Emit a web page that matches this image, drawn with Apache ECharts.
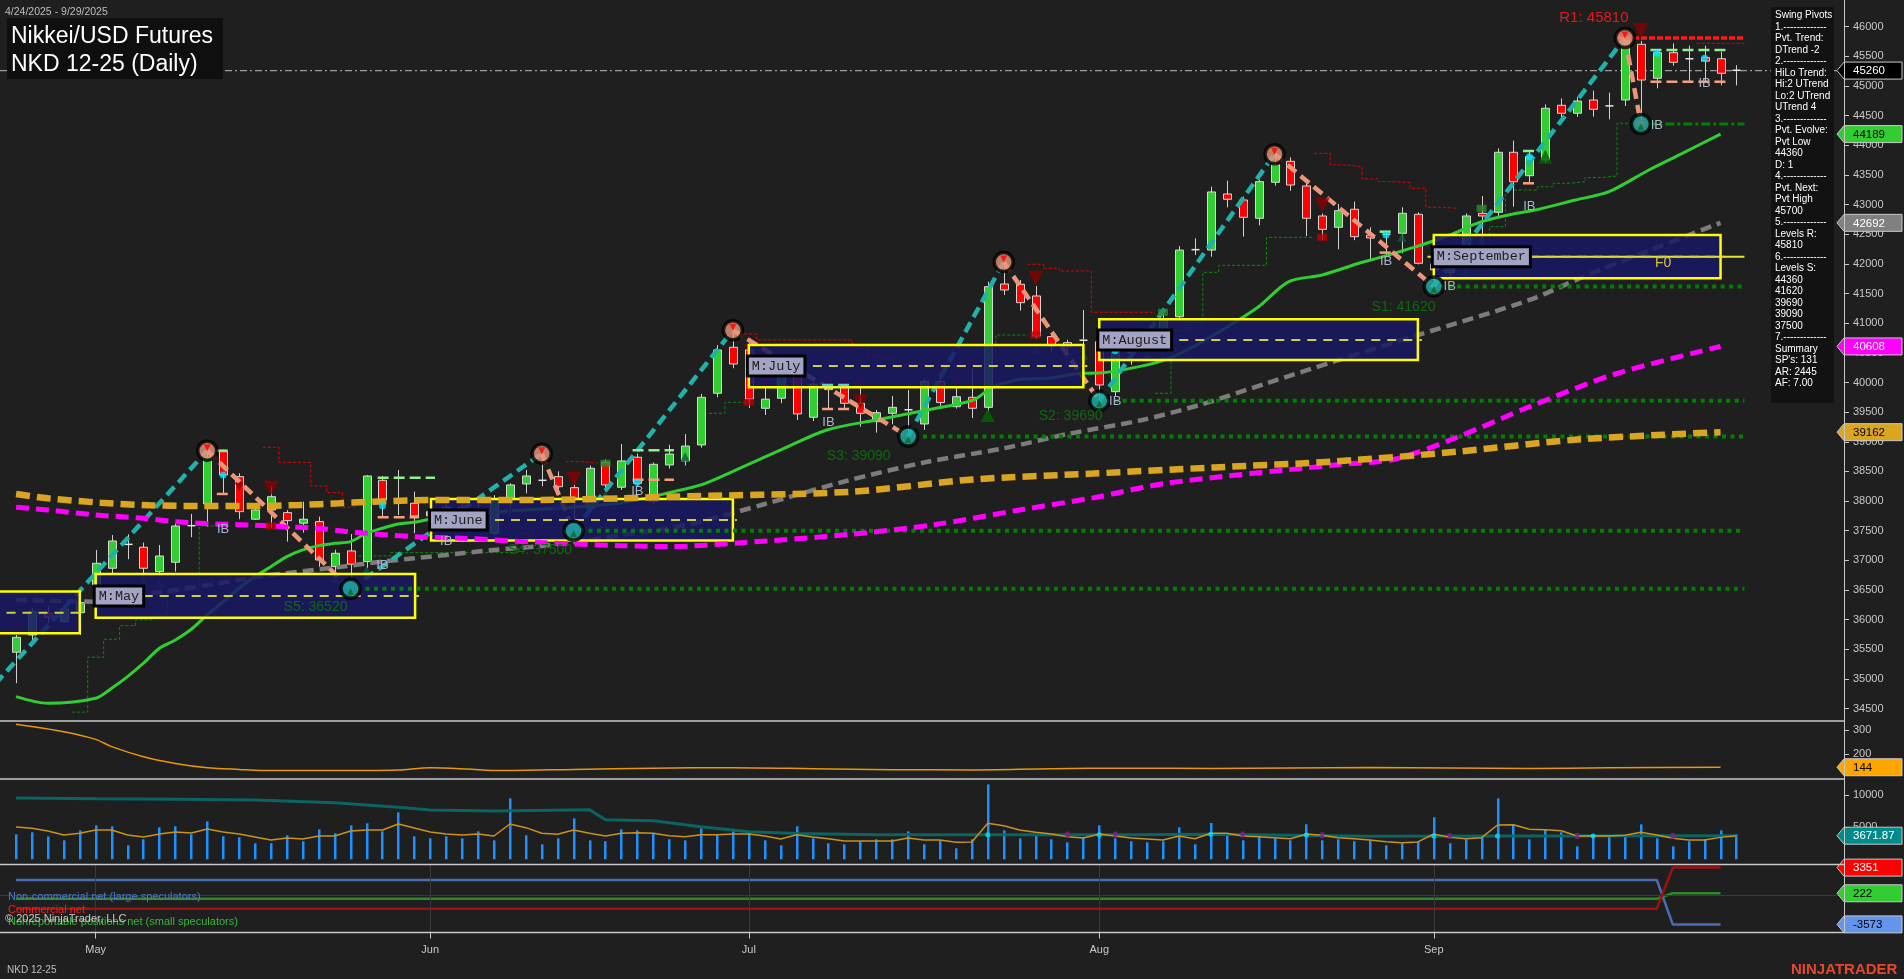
<!DOCTYPE html>
<html><head><meta charset="utf-8">
<script src="https://cdn.jsdelivr.net/npm/echarts@6/dist/echarts.min.js"></script>
<style>html,body{margin:0;padding:0;background:#1f1f1f;overflow:hidden}#c{width:1904px;height:979px}</style>
</head><body><div id="c"></div>
<script>
// ---------- DATA ----------
const dates = ['04-24','04-25','04-28','04-29','04-30',
'05-01','05-02','05-05','05-06','05-07','05-08','05-09','05-12','05-13','05-14','05-15','05-16','05-19','05-20','05-21','05-22','05-23','05-27','05-28','05-29','05-30',
'06-02','06-03','06-04','06-05','06-06','06-09','06-10','06-11','06-12','06-13','06-16','06-17','06-18','06-20','06-23','06-24','06-25','06-26','06-27','06-30',
'07-01','07-02','07-03','07-07','07-08','07-09','07-10','07-11','07-14','07-15','07-16','07-17','07-18','07-21','07-22','07-23','07-24','07-25','07-28','07-29','07-30','07-31',
'08-01','08-04','08-05','08-06','08-07','08-08','08-11','08-12','08-13','08-14','08-15','08-18','08-19','08-20','08-21','08-22','08-25','08-26','08-27','08-28','08-29',
'09-02','09-03','09-04','09-05','09-08','09-09','09-10','09-11','09-12','09-15','09-16','09-17','09-18','09-19','09-22','09-23','09-24','09-25','09-26','09-29'];
const monthNames = {'05':'May','06':'Jun','07':'Jul','08':'Aug','09':'Sep'};

const open  = [35451,35742,36108,35967,36118,36586,36867,37260,37221,36810,36968,37575,37951,38833,38412,37694,37850,37805,37626,37653,36895,37159,36979,38350,37985,37963,37750,37800,37900,37850,
37457,38019,38288,38330,38412,38226,37879,38649,38233,38739,37990,38609,38677,38946,39818,40593,40550,39565,39734,40183,39413,39880,39929,39649,39339,39480,39530,39300,40015,39592,39750,
39581,41661,41656,41459,40773,40672,40700,40688,39845,40500,40600,40716,41108,42225,42233,43179,43078,42769,43376,43730,43314,42808,42617,42921,42482,42480,42516,42836,42000,41850,
42319,42853,42870,43882,43487,43752,44675,44540,44764,44660,44764,45703,45130,45562,45450,45480,45460,45265];
const high  = [35742,36193,36231,36265,36405,37176,37427,37440,37300,37260,37626,37783,38850,38870,38469,37870,38250,37850,37990,37737,37180,37445,38440,38420,38525,38159,37950,38050,38000,37950,
38100,38300,38525,38800,38500,38280,38600,38700,38963,38800,38650,38950,39130,39806,40632,40880,40680,39929,40300,40211,40000,39980,39980,39987,39536,39773,39874,40060,40100,39900,40240,
41700,42030,41729,41627,40800,40720,41222,40900,40620,40700,40900,41250,42300,42432,43302,43403,43134,43420,43850,43797,43387,42850,43010,43050,42617,42560,42955,42870,42150,42250,
42850,43145,43950,44078,43909,44690,44792,44810,44921,44887,45810,45760,45600,45720,45680,45680,45578,45350];
const low   = [34928,35573,35940,35950,35742,36550,36783,37019,36726,36740,36810,37390,37568,38120,37694,37680,37542,37316,37468,36894,36700,36520,36867,37737,37765,37457,37600,37700,37550,37500,
37420,37850,38132,38250,38100,37500,37800,38150,38187,38250,37950,38550,38600,38900,39750,40240,39570,39452,39650,39368,39350,39560,39550,39255,39154,39295,39090,39200,39600,39560,39400,
39500,41476,41211,40745,40520,40500,40380,39690,39760,40300,40500,40650,41050,42150,42121,42954,42459,42650,43320,43234,42470,42400,42246,42400,42066,42180,42178,41990,41620,41780,
42150,42319,42800,42965,43347,43700,44427,44480,44482,44438,44663,44360,44960,45342,45073,45050,45012,45010];
const close = [35703,36135,36040,36181,36287,36951,37327,37270,36867,37074,37580,37585,38739,38440,37822,37850,38074,37670,37694,37007,37120,36935,38423,38019,37995,37749,37820,37900,37850,37700,
38019,38272,38423,38350,38243,38047,38553,38272,38677,38300,38620,38794,38928,39750,40548,40312,39720,39718,40211,39470,39970,39930,39649,39480,39490,39581,39540,40015,39661,39760,39565,
41616,41560,41346,40784,40616,40604,40712,39958,40548,40600,40700,41053,42233,42240,43213,43090,42786,43387,43681,43330,42769,42583,42897,42459,42437,42500,42853,42010,41900,42100,
42808,42808,43882,43386,43809,44624,44540,44747,44607,44665,45780,45101,45562,45400,45460,45420,45214,45260];

const volume = [3885,4200,3570,2950,4500,5280,5130,2175,3110,4970,5130,3885,5900,3570,3420,2490,2490,3730,2800,4660,4040,5280,5600,4350,7300,3570,3260,3570,3260,4350,
2950,9480,3730,2330,3260,6370,2950,2800,4660,4500,3990,3110,2950,4820,3885,4350,4200,2950,2175,5130,3260,2490,2330,2800,3110,3110,4350,2330,2950,1710,3110,11650,4500,3260,3885,3110,2640,3420,5280,3260,2800,2640,2800,4970,
2330,5650,3885,2950,3570,3260,2950,5440,2950,3110,2800,2950,2175,2490,2800,6530,2490,3110,3570,9480,5440,3110,4660,4200,2020,3885,3570,3570,5440,3260,2020,2800,3110,4500,3885];
const volFast = [5020,4820,4400,3780,4040,4560,4560,3780,3470,3940,4250,4090,4710,4250,3940,3470,3000,3310,3160,3620,3620,4400,4560,4560,5490,4870,4250,3940,3780,3940,3620,
5490,4920,4040,3890,4560,4040,3620,4040,4140,4040,3670,3510,3830,3830,3930,3930,3620,3160,3830,3470,3200,2850,2850,2850,2850,3310,3000,3000,2640,2700,5600,5230,4560,4200,3930,3510,3310,3930,3620,3310,3160,3000,3620,
3200,4040,4040,3620,3510,3360,3200,3930,3730,3360,3200,3000,2740,2580,2700,3930,3410,3200,3360,5330,5380,4660,4610,4450,3620,3670,3620,3730,4200,3780,3260,3000,3000,3410,3670];
const volSlow = [[0,9530],[5,9420],[10,9330],[15,9220],[20,8800],[24,8090],[26,7670],[30,7510],[36,7710],[37,6160],[40,6010],[43,5070],[46,4290],[49,4030],[54,3830],[61,3830],[70,3830],[75,3890],[85,3600],[95,3620],[108,3672]];
const volCyanDots = [[61,3830],[68,3830],[75,3890],[81,3760],[89,3620],[93,3610],[99,3620]];
const volPurpleDots = [[66,3830],[69,3830],[77,3860],[82,3740],[90,3615],[98,3620],[104,3640]];

const osc = [[0,323],[3,292],[5,260],[6,230],[8,188],[10,160],[12,142],[14,135],[16,130],[22,130],[24,132],[26,142],[28.3,137],[30.4,130],[35,135],[40,140],[45,142],[50,138],[55,134],[60,133],[65,138],[70,140],[75,139],[80,141],[85,143],[90,141],[95,139],[100,142],[107,144]];

const cotLarge = [[0,1840],[103,1840],[104,-3573],[107,-3573]];
const cotComm  = [[0,-1660],[103,-1660],[104,3351],[107,3351]];
const cotSmall = [[0,-440],[103,-440],[104,222],[107,222]];

const smaGreen = [[0,34702],[2,34590],[5,34675],[6,34843],[7,35039],[8,35265],[9,35518],[10,35658],[11,35838],[12,36080],[13,36304],[14,36530],[15,36726],[16,36894],[17,37063],[18,37176],[19,37248],[20,37288],[21,37316],[22,37457],[23,37542],[24,37614],[25,37642],[26,37693],[28,37765],[31,37833],[34,37879],[36,37917],[38,37973],[40,38074],[41,38142],[43,38272],[45,38500],[48,38862],[50.9,39199],[54,39368],[57.2,39536],[60.1,39705],[61.3,39929],[62.4,40014],[63,40054],[64.8,40071],[66.9,40155],[68,40160],[70.5,40267],[72.4,40408],[74.3,40661],[76.4,40998],[78,41278],[79.9,41700],[82,41813],[84.3,42010],[85.8,42122],[87.9,42290],[90,42487],[92,42712],[94.2,42853],[95.4,42909],[97.9,43078],[100,43218],[102.5,43584],[104.6,43865],[107,44189]];
const maGray = [[0,36333],[5,36304],[7.6,36417],[10,36501],[14,36670],[16,36754],[20,36878],[23,36979],[25,37035],[28,37120],[30,37176],[33,37243],[36,37344],[38,37429],[41,37542],[43,37653],[47,37950],[52,38330],[57,38650],[62,38890],[66,39130],[70.7,39368],[74.3,39621],[78.5,39987],[82.7,40350],[88,40800],[95,41391],[98.4,41784],[102.6,42234],[107,42692]];
const maMagenta = [[0,37896],[2,37850],[5,37766],[8,37710],[10,37653],[12.5,37614],[14.7,37597],[16.8,37568],[18.9,37542],[20.8,37485],[22,37457],[25,37400],[28,37373],[33,37300],[38,37248],[41,37232],[45.5,37297],[52.4,37440],[57.7,37604],[63,37850],[67.6,38054],[72.2,38300],[82.8,38609],[86.6,38710],[90.5,39080],[95,39590],[100.4,40143],[107,40608]];
const maGold = [[0,38120],[2,38047],[5.3,37973],[8.4,37929],[11.5,37917],[14.7,37917],[17.8,37934],[20.3,37963],[22,37985],[25,38013],[28,38019],[33,38019],[38,38047],[41,38074],[52.4,38157],[60,38363],[67.6,38464],[75.2,38567],[82.9,38670],[90.5,38833],[98,39037],[107,39162]];

const pivotIdx = [-1.3,12,21,33,35,45,56,62,68,79,89,101,102];
const pivotVal = [34920,38850,36520,38800,37500,40880,39090,42030,39690,43850,41620,45810,44360];

const levelVal  = [36520,37500,39090,39690,41620,45810,44360];
const levelFrom = [21.4,35.4,56.4,68.4,89.4,100.5,102.4];
const levelTo   = [108.5,108.5,108.5,108.5,108.5,108.5,108.5];
const levelText = ['S5: 36520','S4: 37500','S3: 39090','S2: 39690','S1: 41620','R1: 45810',''];
const levelTextAt = [[18.8,36206],[32.9,37176],[52.9,38750],[66.2,39424],[87.1,41273],[99.05,46142],null];

const boxName  = ['','M:May','M:June','M:July','M:August','M:September'];
const boxFrom  = [-1.6,5,26.05,46,68,89];
const boxTo    = [4,25.05,45,67,88,107];
const boxTop   = [36473,36771,38035,40632,41065,42487];
const boxBot   = [35771,36034,37333,39918,40379,41757];
const boxMid   = [36118,36400,37681,40278,40717,42122];

const redSteps = [
 [[15.5,38907],[16.5,38654],[18.5,38255],[19.5,38142],[20.5,37896],[21.3,37896]],
 [[34.5,38665],[35.5,38640],[36.5,38640]],
 [[45.4,40818],[46.5,40717],[52.5,40593],[53.5,40436],[54.5,40391],[55.5,40307],[56.5,40278],[59.5,40239],[60.5,40239]],
 [[63.5,41993],[64.5,41926],[65.5,41880],[67.5,41184],[71.5,41184]],
 [[81.5,43865],[82.5,43668],[83.5,43640],[84.5,43432],[85.5,43387],[86.5,43370],[87.5,43275],[88.5,42955],[89.5,42938],[90.5,42938]],
 [[105.5,45720],[108.5,45720]]];
const greenSteps = [
 [[3.5,34440],[4.5,35367],[5.5,35670],[6.5,35898],[7.5,35995],[8.5,36080],[9.5,36501],[11.5,37580],[13.5,37580]],
 [[21.5,37075],[23.5,37130],[31.5,37457],[32.5,37560],[37.5,37896],[41.5,37896]],
 [[43.5,39480],[44.5,39666],[46,39666]],
 [[60.5,40503],[61.5,40800],[63.5,40800]],
 [[71.5,39817],[72.5,40873],[73.5,41008],[74.5,41858],[75.5,41976],[78.5,42448],[81.5,42448]],
 [[90.5,41830],[92.5,42628],[93.5,43246],[95.5,43300],[96.5,43359],[97.5,43387],[98.5,43455],[99.5,43482],[100.5,44371],[102,44371]]];

const hiDashes = [[12.6,13.4,38850],[22.7,26.3,38395],[38.7,41.3,38855],[85.6,86.4,42543],[94.6,95.4,43904],[102.6,107.4,45607]];
const loDashes = [[12.6,13.4,38120],[22.7,25.3,37725],[38.7,41.3,38360],[50.6,52.4,39553],[85.6,86.4,42190],[94.6,95.4,43359],[102.6,107.4,45073]];
const cyDashes = [[50.6,52.4,39957]];

const redTriBig   = [[16,38216],[35,38368],[53,39676],[64,41757],[82,42993],[102,45933]];
const redTriSmall = [[0,35882],[14,38243],[46,40577],[47,40042],[51,40042],[52,40014],[53,39997],[58,40182],[59,40014],[60,40312]];
const grnTriSmall = [[8,36641],[9,36614],[20,36698],[22,36838],[31,37850],[34,37934],[37,38103],[42,38749],[64,40548],[67,40464],[71,40464],[72,40435],[87,42449],[91,41869],[92,42403]];
const grnTriBig   = [[61,39450],[96,43808]];
const cyanDots    = [[13,38440],[23,37923],[39,38317],[69,40537],[86,42487],[95,43808],[103,45551],[106,45467]];
const redSquares  = [[16,37580],[46,39666],[64,40801],[82,42449],[102,44371]];
const grnSquares  = [[37,38638],[72,41184],[92,42938]];
const ibAt = [[13,37525],[23,36922],[27,37316],[39,38159],[51,39322],[69,39676],[86,42037],[90,41616],[95,42965],[103,44342],[106,45046]];
const f0At = [103.4,42011];

const priceTagVal = [45260,44189,42692,40608,39162];
const oscTagVal = [144];
const volTagVal = [3671.87];
const cotTagVal = [3351,222,-3573];

const swingLines = ['Swing Pivots','1.-------------','Pvt. Trend:','DTrend -2','2.-------------','HiLo Trend:','Hi:2 UTrend','Lo:2 UTrend','UTrend 4','3.-------------','Pvt. Evolve:','Pvt Low','44360','D: 1','4.-------------','Pvt. Next:','Pvt High','45700','5.-------------','Levels R:','45810','6.-------------','Levels S:','44360','41620','39690','39090','37500','7.-------------','Summary',"SP's: 131",'AR: 2445','AF: 7.00'];

// ---------- LAYOUT / STYLE ----------
const XMIN = -1.0075, XMAX = 114.75;
const FONT = '"Liberation Sans", Arial, sans-serif';
const monthIdx = [];
dates.forEach((d,i)=>{ if(i>0 && d.slice(0,2)!==dates[i-1].slice(0,2)) monthIdx.push(i); });
const monthLabel = {}; monthIdx.forEach(i=>{ monthLabel[i]=monthNames[dates[i].slice(0,2)]; });

const chart = echarts.init(document.getElementById('c'), null, {width:1904, height:979});

function xAx(gi, extra){ return Object.assign({type:'value', gridIndex:gi, min:XMIN, max:XMAX, show:true,
  axisLine:{show:false, onZero:false}, axisTick:{show:false}, axisLabel:{show:false}, splitLine:{show:false}}, extra||{}); }
const axLabel = {color:'#c8c8c8', fontSize:11, fontFamily:FONT, margin:9, formatter:v=>String(v)};
const axTick = {show:true, length:5, lineStyle:{color:'#c8c8c8'}};
const noLine = {show:false, onZero:false};

function lineS(data, xi, color, width, dash, z, extra){
  return Object.assign({type:'line', data, xAxisIndex:xi, yAxisIndex:xi, symbol:'none', clip:false, silent:true, z,
    lineStyle:{color, width, type:dash||'solid'}, animation:false}, extra||{});
}
function scat(data, symbol, size, color, z, extra){
  return Object.assign({type:'scatter', data, xAxisIndex:0, yAxisIndex:0, symbol, symbolSize:size, clip:false, silent:true, z,
    itemStyle:{color}, animation:false}, extra||{});
}
function tagSeries(vals, bgs, fgs, xi){
  return {type:'custom', xAxisIndex:xi, yAxisIndex:xi, z:30, silent:true, clip:false,
    data: vals.map(v=>[XMAX, v]),
    renderItem:(params, api)=>{
      const k = params.dataIndex; const p = api.coord([XMAX, vals[k]]); const x=p[0], y=p[1];
      return {type:'group', children:[
        {type:'polygon', shape:{points:[[x-7,y],[x,y-8.5],[x+58,y-8.5],[x+58,y+8.5],[x,y+8.5]]}, style:{fill:bgs[k], stroke:'#c8c8c8', lineWidth:1}},
        {type:'text', x:x+9, y:y+0.5, style:{text:String(vals[k]), fill:fgs[k], font:'11.5px '+FONT, verticalAlign:'middle', align:'left'}}
      ]};
    }};
}
function textSeries(points, texts, color, font, z, bg){
  return {type:'custom', xAxisIndex:0, yAxisIndex:0, z, silent:true, clip:false,
    data: points.map(p=>[p[0],p[1]]),
    renderItem:(params, api)=>{
      const p = api.coord([points[params.dataIndex][0], points[params.dataIndex][1]]);
      const st = {text:texts[params.dataIndex], fill:color, font, align: bg?'left':'center', verticalAlign:'middle'};
      if (bg) Object.assign(st, {backgroundColor:'#a3a3c4', borderColor:'#000', borderWidth:3, padding:[2,3,1,3]});
      return {type:'text', x:p[0], y:p[1], style:st};
    }};
}
function dashSeries(list, color, z){
  return {type:'custom', xAxisIndex:0, yAxisIndex:0, z, silent:true, clip:false,
    data: list.map(d=>[d[0], d[2]]),
    renderItem:(params, api)=>{
      const d = list[params.dataIndex]; const a = api.coord([d[0], d[2]]), b = api.coord([d[1], d[2]]);
      return {type:'line', shape:{x1:a[0],y1:a[1],x2:b[0],y2:b[1]}, style:{stroke:color, lineWidth:2.5, lineDash:[11,5]}};
    }};
}

const series = [];
redSteps.forEach(s=>series.push(lineS(s,0,'#e60000',1,[3,2],2,{step:'end'})));
greenSteps.forEach(s=>series.push(lineS(s,0,'#0a8a0a',1,[3,2],2,{step:'end'})));
series.push(lineS([[XMIN,priceTagVal[0]],[XMAX,priceTagVal[0]]],0,'#9a9a9a',1.2,[7,3,2,3],2));
series.push({type:'custom', xAxisIndex:0, yAxisIndex:0, z:3, silent:true, clip:false,
  data: dates.map((d,i)=>[i, open[i], close[i], low[i], high[i]]),
  renderItem:(params, api)=>{
    const i=api.value(0), o=api.value(1), c=api.value(2), l=api.value(3), h=api.value(4);
    const pH=api.coord([i,h]), pL=api.coord([i,l]), pO=api.coord([i,o]), pC=api.coord([i,c]);
    const x=Math.round(pH[0])+0.5, w=8;
    const top=Math.min(pO[1],pC[1]), bot=Math.max(pO[1],pC[1]);
    const ch=[{type:'line', shape:{x1:x,y1:pH[1],x2:x,y2:pL[1]}, style:{stroke:'#d0d0d0', lineWidth:1}}];
    if (bot-top<2) ch.push({type:'line', shape:{x1:x-w/2,y1:top,x2:x+w/2,y2:top}, style:{stroke:'#e6e6e6', lineWidth:1.5}});
    else ch.push({type:'rect', shape:{x:x-w/2, y:top, width:w, height:bot-top}, style:{fill: c>=o?'#32cd32':'#ff0000', stroke:'#d8d8d8', lineWidth:1}});
    return {type:'group', children:ch};
  }});
series.push(lineS(smaGreen,0,'#32cd32',3,'solid',4,{smooth:0.3}));
series.push(lineS(maGray,0,'#7c7c7c',4.5,[11,6],4,{smooth:0.3}));
series.push(scat(redTriSmall,'triangle',9,'#8b0000',4,{symbolRotate:180}));
series.push(scat(grnTriSmall,'triangle',9,'#0b5a3c',4));
series.push({type:'custom', xAxisIndex:0, yAxisIndex:0, z:5, silent:true, clip:false,
  data: pivotIdx.slice(1).map((x,k)=>[x,pivotVal[k+1]]),
  renderItem:(params, api)=>{
    const k=params.dataIndex; const a=api.coord([pivotIdx[k],pivotVal[k]]), b=api.coord([pivotIdx[k+1],pivotVal[k+1]]);
    const up = pivotVal[k+1]>pivotVal[k];
    return {type:'line', shape:{x1:a[0],y1:a[1],x2:b[0],y2:b[1]}, style:{stroke: up?'#20b2aa':'#e9967a', lineWidth:4.5, lineDash:[11,6]}};
  }});
series.push({type:'custom', xAxisIndex:0, yAxisIndex:0, z:6, silent:true, clip:false,
  data: boxFrom.map((x,k)=>[x, boxMid[k]]),
  renderItem:(params, api)=>{
    const k=params.dataIndex;
    const a=api.coord([boxFrom[k],boxTop[k]]), b=api.coord([boxTo[k],boxBot[k]]), m=api.coord([boxFrom[k],boxMid[k]]);
    const ch=[{type:'rect', shape:{x:a[0],y:a[1],width:b[0]-a[0],height:b[1]-a[1]}, style:{fill:'rgba(24,24,100,0.86)', stroke:'#ffff00', lineWidth:2.5}}];
    if (k===boxFrom.length-1){ const e=api.coord([108.5,boxMid[k]]), s=api.coord([boxFrom[k]-0.4,boxMid[k]]);
      ch.push({type:'line', shape:{x1:s[0],y1:m[1],x2:e[0],y2:m[1]}, style:{stroke:'#e6e632', lineWidth:2}}); }
    ch.push({type:'line', shape:{x1:a[0],y1:m[1],x2:b[0]+(k===0?6:4),y2:m[1]}, style:{stroke:'#cfcf3a', lineWidth:2, lineDash:[9,7]}});
    return {type:'group', children:ch};
  }});
series.push(lineS(maMagenta,0,'#ff00ff',5,[13,7],7,{smooth:0.3}));
series.push(lineS(maGold,0,'#daa520',6.5,[14,7],7,{smooth:0.3}));
series.push({type:'custom', xAxisIndex:0, yAxisIndex:0, z:7, silent:true, clip:false,
  data: levelVal.map((v,k)=>[levelFrom[k], v]),
  renderItem:(params, api)=>{
    const k=params.dataIndex; const a=api.coord([levelFrom[k],levelVal[k]]), b=api.coord([levelTo[k],levelVal[k]]);
    let st;
    if (levelText[k].startsWith('R')) st={stroke:'#ff1a1a', lineWidth:3.5, lineDash:[6,2]};
    else if (levelText[k]==='') st={stroke:'#008000', lineWidth:3, lineDash:[9,3,3,3]};
    else st={stroke:'#008000', lineWidth:4, lineDash:[4,4.5]};
    return {type:'line', shape:{x1:a[0],y1:a[1],x2:b[0],y2:b[1]}, style:st};
  }});
series.push(dashSeries(hiDashes,'#90ee90',8));
series.push(dashSeries(loDashes,'#f4a07c',8));
series.push(dashSeries(cyDashes,'#5fcfd0',8));
series.push(scat(redSquares,'rect',[10,7],'#c00000',8));
series.push(scat(grnSquares,'rect',[10,7],'#2e8b2e',8));
series.push(scat(redTriBig,'triangle',15,'#8b0000',8,{symbolRotate:180}));
series.push(scat(grnTriBig,'triangle',14,'#006400',8));
series.push(scat(cyanDots,'circle',7,'#00e5ff',9));
const hiPiv=[], loPiv=[];
pivotIdx.forEach((x,k)=>{ if(k===0) return; (pivotVal[k]>pivotVal[k-1]?hiPiv:loPiv).push([x,pivotVal[k]]); });
series.push(scat(hiPiv,'circle',19,'#e9967a',10,{itemStyle:{color:'#e9967a',borderColor:'#000',borderWidth:3.5}}));
series.push(scat(loPiv,'circle',19,'#20b2aa',10,{itemStyle:{color:'#20b2aa',borderColor:'#000',borderWidth:3.5}}));
series.push(scat(hiPiv,'triangle',7,'#ff0000',11,{symbolRotate:180, symbolOffset:[0,-3]}));
series.push(scat(loPiv,'triangle',7,'#0b6b2b',11,{symbolOffset:[0,3]}));
series.push(textSeries(ibAt, ibAt.map(()=> 'IB'), '#a9b6c8', '13px '+FONT, 12));
const lvlPts=[], lvlTxt=[];
levelTextAt.forEach((p,k)=>{ if(p && !levelText[k].startsWith('R')){ lvlPts.push(p); lvlTxt.push(levelText[k]); } });
series.push(textSeries(lvlPts, lvlTxt, '#0b6b0b', '14px '+FONT, 12));
series.push(textSeries([levelTextAt[5]], [levelText[5]], '#e61919', '15px '+FONT, 12));
series.push(textSeries([f0At], ['F0'], '#d6c33a', '14px '+FONT, 12));
const bl=[], bt=[];
boxName.forEach((n,k)=>{ if(n){ bl.push([boxFrom[k], boxMid[k]]); bt.push(n); } });
series.push(textSeries(bl, bt, '#1e1e1e', '13.5px "Liberation Mono", monospace', 13, true));
series.push(tagSeries(priceTagVal, ['#000000','#32cd32','#808080','#ff00ff','#daa520'], ['#ffffff','#000000','#ffffff','#ffffff','#000000'], 0));

series.push(lineS(osc,1,'#e8980a',1.5,'solid',3,{smooth:0.3}));
series.push(tagSeries(oscTagVal, ['#ffa500'], ['#000000'], 1));
series.push({type:'custom', xAxisIndex:2, yAxisIndex:2, z:3, silent:true, clip:false,
  data: volume.map((v,i)=>[i,v]),
  renderItem:(params, api)=>{
    const a=api.coord([api.value(0),0]), b=api.coord([api.value(0),api.value(1)]);
    return {type:'rect', shape:{x:Math.round(a[0])-1, y:b[1], width:2.5, height:a[1]-b[1]}, style:{fill:'#1e90ff'}};
  }});
series.push(lineS(volSlow,2,'#0b6362',3,'solid',4));
series.push(lineS(volFast.map((v,i)=>[i,v]),2,'#c8921e',1.5,'solid',5));
series.push(Object.assign(scat(volCyanDots,'circle',5,'#00e5ff',6),{xAxisIndex:2,yAxisIndex:2}));
series.push(Object.assign(scat(volPurpleDots,'rect',[4,6],'#8b1a8b',6),{xAxisIndex:2,yAxisIndex:2}));
series.push(tagSeries(volTagVal, ['#008b8b'], ['#ffffff'], 2));
series.push({type:'line', xAxisIndex:3, yAxisIndex:3, data:[], z:1, silent:true,
  markLine:{silent:true, symbol:'none', animation:false, label:{show:false},
    lineStyle:{color:'#3a3a3a', width:1, type:'solid'},
    data: monthIdx.map(i=>({xAxis:i})).concat([{yAxis:0}])}});
series.push(lineS(cotLarge,3,'#4a6db3',2.5,'solid',3));
series.push(lineS(cotSmall,3,'#2a8a2a',2.5,'solid',3));
series.push(lineS(cotComm,3,'#a01010',2.5,'solid',3));
series.push(tagSeries(cotTagVal, ['#ff0000','#32cd32','#6495ed'], ['#ffffff','#000000','#000000'], 3));

const sep = (y)=>({type:'line', shape:{x1:0,y1:y,x2:1844,y2:y}, style:{stroke:'#c8c8c8', lineWidth:1.5}, silent:true, z:50});
const txt = (x, yb, text, color, font, z)=>({type:'text', x, y:yb, style:{text, fill:color, font, verticalAlign:'bottom'}, z:z||60});
const option = {
  backgroundColor:'#1f1f1f', animation:false,
  grid:[
    {left:0, width:1844, top:26.7, height:681.9},
    {left:0, width:1844, top:729.8, height:48},
    {left:0, width:1844, top:795, height:64.3},
    {left:0, width:1844, top:864.5, height:68}],
  xAxis:[xAx(0), xAx(1), xAx(2), xAx(3,{
    position:'bottom',
    axisTick:{show:true, customValues:monthIdx, length:6, lineStyle:{color:'#c8c8c8'}},
    axisLabel:{show:true, customValues:monthIdx, color:'#c8c8c8', fontSize:11, fontFamily:FONT, margin:12, formatter:v=>monthLabel[Math.round(v)]||''}})],
  yAxis:[
    {type:'value', gridIndex:0, position:'right', min:34500, max:46000, interval:500, axisLine:noLine, axisTick:axTick, axisLabel:axLabel, splitLine:{show:false}},
    {type:'value', gridIndex:1, position:'right', min:100, max:300, interval:100, axisLine:noLine,
      axisTick:Object.assign({customValues:[200,300]},axTick), axisLabel:Object.assign({customValues:[200,300]},axLabel), splitLine:{show:false}},
    {type:'value', gridIndex:2, position:'right', min:0, max:10000, interval:5000, axisLine:noLine,
      axisTick:Object.assign({customValues:[0,5000,10000]},axTick), axisLabel:Object.assign({customValues:[5000,10000]},axLabel), splitLine:{show:false}},
    {type:'value', gridIndex:3, position:'right', min:-4561, max:3732, axisLine:noLine, axisTick:{show:false}, axisLabel:{show:false}, splitLine:{show:false}}],
  series,
  graphic:{elements:[
    sep(721), sep(779), sep(864.5), sep(932.5),
    {type:'line', shape:{x1:1844.5,y1:0,x2:1844.5,y2:932.5}, style:{stroke:'#c8c8c8', lineWidth:1}, silent:true, z:50},
    txt(5, 17.5, '4/24/2025 - 9/29/2025', '#bdbdbd', '10.5px '+FONT),
    {type:'rect', shape:{x:7,y:18,width:216,height:61}, style:{fill:'#0f0f0f'}, z:60},
    txt(11, 48.5, 'Nikkei/USD Futures', '#ffffff', '23px '+FONT, 61),
    txt(11, 76, 'NKD 12-25 (Daily)', '#ffffff', '23px '+FONT, 61),
    {type:'rect', shape:{x:1771,y:7,width:63,height:396}, style:{fill:'#121212'}, z:60},
    {type:'text', x:1775, y:10, style:{text:swingLines.join('\n'), fill:'#ffffff', font:'10px '+FONT, lineHeight:11.49, verticalAlign:'top'}, z:61},
    txt(8, 902.5, 'Non-commercial net (large speculators)', '#5079cc', '11px '+FONT),
    txt(8, 915.5, 'Commercial net', '#ff1a1a', '11px '+FONT),
    txt(8, 927.5, 'Nonreportable positions net (small speculators)', '#3cb43c', '11px '+FONT),
    txt(5, 924.5, '\u00a9 2025 NinjaTrader, LLC', '#c8c8c8', '11px '+FONT, 61),
    txt(7, 975.5, 'NKD 12-25', '#bdbdbd', '10px '+FONT),
    txt(1791, 977.5, 'NINJATRADER', '#e5482c', 'bold 15px '+FONT)
  ]}
};
chart.setOption(option);
</script></body></html>
